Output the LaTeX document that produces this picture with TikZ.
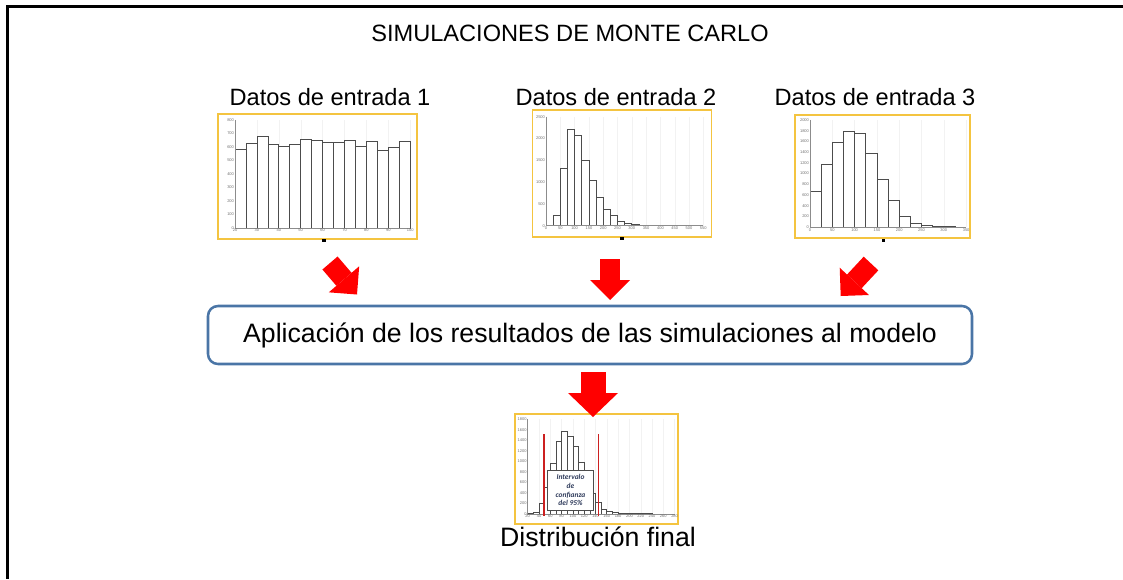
\documentclass[tikz,border=0pt]{standalone}
\usepackage{fontspec}
\setmainfont{Liberation Sans}
\newfontfamily\chartfont{Carlito}
\usepackage{tikz}
\usetikzlibrary{arrows.meta}

\definecolor{chartgold}{RGB}{244,196,64}
\definecolor{boxblue}{RGB}{74,117,166}
\definecolor{cired}{RGB}{204,32,32}
\definecolor{citext}{RGB}{48,60,92}

\begin{document}
\begin{tikzpicture}[x=0.75pt, y=-0.75pt,
    chartframe/.style={draw=chartgold, line width=1.1pt, fill=white, inner sep=0pt},
    histbar/.style={draw=black!70, fill=white, line width=0.5pt},
    axisline/.style={draw=black!45, line width=0.35pt},
    gridline/.style={draw=black!5, line width=0.3pt},
    ticklab/.style={font=\fontsize{3}{3.5}\selectfont, text=black!55, inner sep=0.6pt},
    bigtext/.style={font=\fontsize{17.7}{20}\selectfont, inner sep=0pt},
    captext/.style={font=\fontsize{20}{24}\selectfont, inner sep=0pt},
    modelbox/.style={draw=boxblue, line width=1.9pt, rounded corners=7.5pt, minimum width=573pt, minimum height=43.5pt, font=\fontsize{20}{24}\selectfont},
    redarrow/.style={draw=red, line width=15pt, -{Triangle[length=15pt, width=30pt, line width=0pt]}},
    bigredarrow/.style={draw=red, line width=18.75pt, -{Triangle[length=18pt, width=37.5pt, line width=0pt]}},
    cimark/.style={draw=cired, line width=1.1pt},
    cibox/.style={draw=black!70, fill=white, line width=0.6pt, align=center, inner sep=0pt, minimum width=34.2pt, minimum height=30.5pt, font=\chartfont\bfseries\itshape\fontsize{5.6}{6.5}\selectfont, text=citext}
]
    \useasboundingbox (0,0) rectangle (1123,579);
    \draw[line width=2.2pt] (1123,6.5) -- (7.5,6.5) -- (7.5,579);

    \node[bigtext] (title) at (570,33) {SIMULACIONES DE MONTE CARLO};
    \node[bigtext] (lab1) at (330,97.5) {Datos de entrada 1};
    \node[bigtext] (lab2) at (616,97.5) {Datos de entrada 2};
    \node[bigtext] (lab3) at (875,97.5) {Datos de entrada 3};

    \node[chartframe, minimum width=149.25pt, minimum height=93.75pt] (h1) at (317.5,176.5) {};
    \node[chartframe, minimum width=134.25pt, minimum height=95.25pt] (h2) at (622,173.5) {};
    \node[chartframe, minimum width=131.25pt, minimum height=92.25pt] (h3) at (882.5,176.5) {};
    \node[chartframe, minimum width=122.25pt, minimum height=82.5pt] (h4) at (596.5,469) {};

    % datos 1
    \begin{scope}[shift={(235,228)}, xscale=2.19, yscale=-0.135]
    \foreach \v in {30,40,...,100}
        \draw[gridline] (\v-20,0) -- (\v-20,800);
    \foreach \h [count=\i from 0] in {583,628,682,620,608,620,657,650,635,635,647,608,640,578,598,645}
        \draw[histbar] (\i*5,0) rectangle (\i*5+5,\h);
    \draw[axisline] (0,800) -- (0,0) -- (80,0);
    \foreach \v in {0,100,...,800}
        \node[ticklab, anchor=east] at (0,\v) {\v};
    \foreach \v in {20,30,...,100}
        \node[ticklab, anchor=north] at (\v-20,0) {\v};
    \end{scope}

    % datos 2
    \begin{scope}[shift={(546,225.7)}, xscale=0.286, yscale=-0.0436]
    \foreach \v in {50,100,...,550}
        \draw[gridline] (\v,0) -- (\v,2500);
    \foreach \h [count=\i from 0] in {245,1315,2210,2064,1491,1032,642,382,229,107,61,38,20,12,8,5,4,3,2,2}
        \draw[histbar] (25+\i*25,0) rectangle (50+\i*25,\h);
    \draw[axisline] (0,2500) -- (0,0) -- (550,0);
    \foreach \v in {0,500,...,2500}
        \node[ticklab, anchor=east] at (0,\v) {\v};
    \foreach \v in {0,50,...,550}
        \node[ticklab, anchor=north] at (\v,0) {\v};
    \end{scope}

    % datos 3
    \begin{scope}[shift={(810,227.3)}, xscale=0.446, yscale=-0.0537]
    \foreach \v in {50,100,...,350}
        \draw[gridline] (\v,0) -- (\v,2000);
    \foreach \h [count=\i from 0] in {665,1168,1578,1795,1752,1379,888,509,211,81,31,19,12}
        \draw[histbar] (\i*25,0) rectangle (\i*25+25,\h);
    \draw[axisline] (0,2000) -- (0,0) -- (350,0);
    \foreach \v in {0,200,...,2000}
        \node[ticklab, anchor=east] at (0,\v) {\v};
    \foreach \v in {0,50,...,350}
        \node[ticklab, anchor=north] at (\v,0) {\v};
    \end{scope}

    % distribucion final
    \begin{scope}[shift={(527.7,514)}, xscale=0.565, yscale=-0.0526]
    \foreach \v in {40,60,...,280}
        \draw[gridline] (\v-20,0) -- (\v-20,1800);
    \foreach \h [count=\i from 0] in {5,40,200,510,960,1375,1580,1470,1290,980,650,390,220,90,45,30,20,12,8,6,5,4,3,3,2,2}
        \draw[histbar] (\i*10,0) rectangle (\i*10+10,\h);
    \draw[axisline] (0,1800) -- (0,0) -- (260,0);
    \foreach \v in {0,200,...,1800}
        \node[ticklab, anchor=east] at (0,\v) {\v};
    \foreach \v in {20,40,...,280}
        \node[ticklab, anchor=north] at (\v-20,0) {\v};
    \draw[cimark] (28.8,-32) -- (28.8,1521);
    \draw[cimark] (124.9,-32) -- (124.9,1521);
    \end{scope}
    \node[cibox] (ci) at (570.5,490.3) {Intervalo\\de\\confianza\\del 95\%};

    \fill (321.5,238.5) rectangle (325.5,241.5);
    \fill (620,236.5) rectangle (623.5,239.5);
    \fill (881.5,238.5) rectangle (885,241.5);

    \node[modelbox] (model) at (590,335) {Aplicación de los resultados de las simulaciones al modelo};
    \node[captext, anchor=base] (final) at (598,546) {Distribución final};

    \coordinate (a1t) at (330,263);
    \coordinate (a1h) at (357,294.5);
    \coordinate (a2t) at (610,259);
    \coordinate (a2h) at (610,300);
    \coordinate (a3t) at (871,263.5);
    \coordinate (a3h) at (840.7,296);
    \coordinate (a4t) at (593,372);
    \coordinate (a4h) at (593,417);
    \draw[redarrow] (a1t) -- (a1h);
    \draw[redarrow] (a2t) -- (a2h);
    \draw[redarrow] (a3t) -- (a3h);
    \draw[bigredarrow] (a4t) -- (a4h);
\end{tikzpicture}
\end{document}
